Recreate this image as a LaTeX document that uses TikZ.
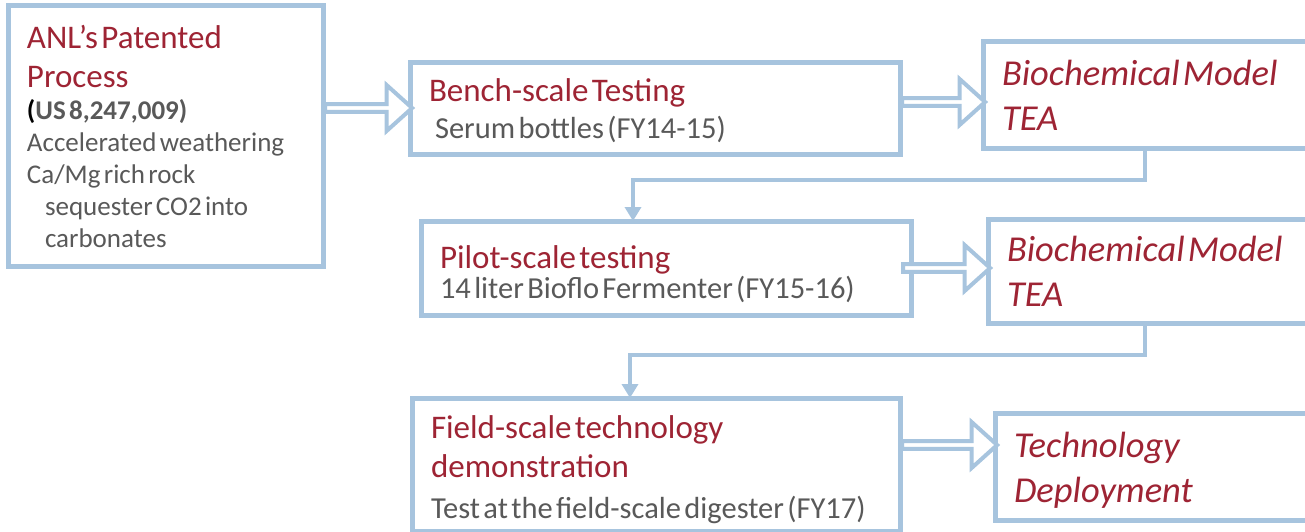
\documentclass[tikz,border=0pt]{standalone}
\usepackage{fontspec}
\setmainfont{Carlito}
\usepackage{tikz}
\usetikzlibrary{arrows.meta,calc,shapes.arrows}

\definecolor{boxblue}{RGB}{167,196,222}
\definecolor{titlered}{RGB}{158,36,52}
\definecolor{textgray}{RGB}{89,89,89}

\newcommand{\titletext}{\fontsize{33}{39}\selectfont\color{titlered}}
\newcommand{\bodytext}{\fontsize{30.5}{37}\selectfont\color{textgray}}
\newcommand{\notetext}{\fontsize{27}{32}\selectfont\color{textgray}}
\newcommand{\modeltext}{\fontsize{36.5}{45}\selectfont\itshape\color{titlered}}
\newcommand{\blockarrow}[2]{\path let \p1=(#1), \p2=(#2), \n1={\x2-\x1} in (#1) -- (#2) node[midway,flowarrow,minimum height=\n1] {};}

\begin{document}
\begin{tikzpicture}[x=1pt,y=-1pt,
  stage/.style={draw=boxblue,line width=5pt,fill=white,anchor=north west,
    inner xsep=19pt,inner ysep=0pt,outer sep=0pt,align=left},
  flowarrow/.style={single arrow,draw=boxblue,line width=4pt,fill=white,
    inner sep=0pt,outer sep=0pt,minimum width=46pt,
    single arrow head extend=10pt,single arrow tip angle=84},
  elbow/.style={draw=boxblue,line width=4pt,-{Triangle[length=14pt,width=16pt]}}]
  \useasboundingbox (0,0) rectangle (1305,532);
  \clip (0,0) rectangle (1305,532);

  % stages
  \node[stage,text width=277pt,minimum height=260pt] (anl) at (8,6)
    {{\titletext ANL’s Patented\\Process\par}
     {\notetext\bfseries{\color{black}(}US 8,247,009)\\\mdseries Accelerated weathering\\Ca/Mg rich rock\\\hspace*{18pt}sequester CO2 into\\\hspace*{18pt}carbonates\par}};
  \node[stage,text width=452pt,minimum height=91pt] (bench) at (410,63)
    {{\titletext\rule{0pt}{27pt}Bench-scale Testing\par}
     {\bodytext\hspace*{6pt}Serum bottles (FY14-15)\par}};
  \node[stage,text width=292pt,minimum height=106pt] (model1) at (983,42)
    {{\modeltext Biochemical Model\\TEA\par}};
  \node[stage,text width=452pt,minimum height=94pt] (pilot) at (421,221)
    {{\titletext\rule{0pt}{35pt}Pilot-scale testing\par}\vspace{-7pt}
     {\bodytext 14 liter Bioflo Fermenter (FY15-16)\par}};
  \node[stage,text width=294pt,minimum height=104pt] (model2) at (988,219)
    {{\modeltext Biochemical Model\\TEA\par}};
  \node[stage,text width=450pt,minimum height=133pt] (field) at (412,398)
    {{\titletext\rule{0pt}{33pt}Field-scale technology\\demonstration\par}\vspace{4pt}
     {\bodytext Test at the field-scale digester (FY17)\par}};
  \node[stage,text width=287pt,minimum height=107pt] (deploy) at (995,413)
    {{\modeltext\rule{0pt}{32pt}Technology\\Deployment\par}};

  % block arrows
  \coordinate (ab) at (0,108);
  \coordinate (bc) at (0,102);
  \coordinate (de) at (0,268);
  \coordinate (fg) at (0,445);
  \blockarrow{anl.east |- ab}{bench.west |- ab}
  \blockarrow{bench.east |- bc}{model1.west |- bc}
  \blockarrow{[xshift=-10pt]pilot.east |- de}{model2.west |- de}
  \blockarrow{field.east |- fg}{deploy.west |- fg}

  % elbows down to the next row
  \coordinate (cd) at (633,180);
  \coordinate (ef) at (630,355);
  \draw[elbow] ([xshift=-3.5pt]model1.south) |- (cd) -- (pilot.north -| cd);
  \draw[elbow] ([xshift=-9pt]model2.south) |- (ef) -- (field.north -| ef);
\end{tikzpicture}
\end{document}
